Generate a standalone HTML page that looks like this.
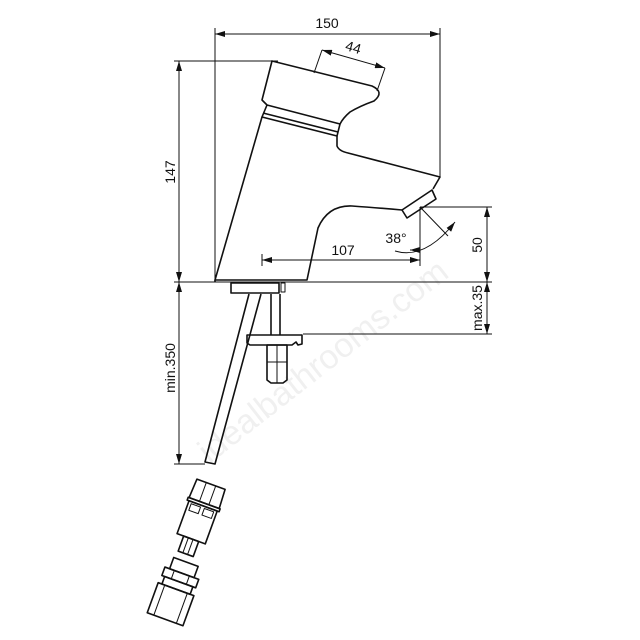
<!DOCTYPE html>
<html><head><meta charset="utf-8"><style>
html,body{margin:0;padding:0;background:#fff}
svg{display:block}
text{font-family:"Liberation Sans",Arial,sans-serif;fill:#111}
</style></head><body>
<svg width="640" height="640" viewBox="0 0 640 640" xmlns="http://www.w3.org/2000/svg">
<defs>
<marker id="a" viewBox="0 0 10 6" refX="10" refY="3" markerWidth="10" markerHeight="6" markerUnits="userSpaceOnUse" orient="auto-start-reverse">
<path d="M0,0 L10,3 L0,6 Z" fill="#111"/>
</marker>
</defs>
<text x="330" y="370" font-size="34" fill="#000" opacity="0.06" transform="rotate(-38 330 370)" text-anchor="middle">idealbathrooms.com</text>
<g stroke="#111" stroke-width="1" fill="none">
<!-- extension lines -->
<line x1="215" y1="28" x2="215" y2="282"/>
<line x1="440" y1="28" x2="440" y2="177"/>
<line x1="174" y1="61" x2="278" y2="61"/>
<line x1="174" y1="282" x2="492" y2="282"/>
<line x1="303" y1="334" x2="492" y2="334"/>
<line x1="174" y1="464" x2="205" y2="464"/>
<line x1="420" y1="207" x2="492" y2="207"/>
<line x1="420" y1="207" x2="420" y2="266"/>
<line x1="262" y1="254" x2="262" y2="266"/>
<line x1="322" y1="50" x2="314" y2="73"/>
<line x1="385" y1="68" x2="377" y2="91"/>
<!-- dimension lines -->
<line x1="215" y1="34" x2="440" y2="34" marker-start="url(#a)" marker-end="url(#a)"/>
<line x1="179" y1="61" x2="179" y2="282" marker-start="url(#a)" marker-end="url(#a)"/>
<line x1="179" y1="282" x2="179" y2="464" marker-start="url(#a)" marker-end="url(#a)"/>
<line x1="487" y1="207" x2="487" y2="282" marker-start="url(#a)" marker-end="url(#a)"/>
<line x1="487" y1="282" x2="487" y2="334" marker-start="url(#a)" marker-end="url(#a)"/>
<line x1="262" y1="260" x2="420" y2="260" marker-start="url(#a)" marker-end="url(#a)"/>
<line x1="322" y1="50" x2="385" y2="68" marker-start="url(#a)" marker-end="url(#a)"/>
<line x1="420" y1="207" x2="448" y2="236"/>
<path d="M395,251 Q425,260 455,222" marker-end="url(#a)"/>
<path d="M420,250 L410,250" marker-end="url(#a)"/>
</g>
<g stroke="#111" stroke-width="1.6" fill="none" stroke-linejoin="round">
<!-- handle -->
<path d="M272,61 L372,86 Q385,92 374,101 Q360,106 350,112 Q343,118 340,124 L267,105 L262,100 Z"/>
<path d="M267,105 L262,117 L337,136 L340,124"/>
<line x1="263" y1="113" x2="338" y2="132"/>
<!-- body -->
<path d="M262,117 L215,280 L307,280 L318,228 Q328,205 352,206 Q380,208 402,210"/>
<path d="M337,136 L337,146 Q339,151 348,153 L440,177 L433,189"/>
<path d="M402,210 L407,218 L436,199 L432,190 Z"/>
<!-- base -->
<path d="M215,282 L215,280"/>
<rect x="231" y="283" width="48" height="10"/>
<rect x="281" y="283" width="4" height="9" stroke-width="1"/>
<!-- hose -->
<path d="M249,294 L205,462 L215,464 L261,294"/>
<!-- rod -->
<line x1="271" y1="294" x2="271" y2="335"/>
<line x1="280" y1="294" x2="280" y2="335"/>
<path d="M247,335 L302,335 L302,344 L298,345 L296,342 L292,345 L260,345 L250,345 L247,343 Z"/>
<path d="M267,345 L287,345 L287,380 L283,383 L271,383 L267,380 Z"/>
<line x1="277" y1="345" x2="277" y2="383" stroke-width="1"/>
<line x1="267" y1="362" x2="287" y2="362" stroke-width="1"/>
<!-- fitting 1 -->
<g transform="translate(198,520) rotate(20)">
<path d="M-15,-38 L15,-38 L16,-18 L-16,-18 Z"/>
<line x1="-5" y1="-38" x2="-5" y2="-18" stroke-width="1"/>
<line x1="5" y1="-38" x2="5" y2="-18" stroke-width="1"/>
<rect x="-17" y="-18" width="34" height="3"/>
<rect x="-15" y="-15" width="30" height="35"/>
<rect x="-12" y="-13" width="10" height="7" stroke-width="1"/>
<rect x="2" y="-13" width="10" height="7" stroke-width="1"/>
<rect x="-8" y="20" width="16" height="16"/>
<line x1="-3" y1="20" x2="-3" y2="36" stroke-width="1"/>
<line x1="2" y1="20" x2="2" y2="36" stroke-width="1"/>
</g>
<!-- fitting 2 -->
<g transform="translate(175,592) rotate(20)">
<rect x="-13" y="-32" width="26" height="12"/>
<rect x="-18" y="-20" width="36" height="9"/>
<line x1="-8" y1="-20" x2="-8" y2="-11" stroke-width="1"/>
<line x1="8" y1="-20" x2="8" y2="-11" stroke-width="1"/>
<rect x="-15" y="-11" width="30" height="8"/>
<rect x="-19" y="-3" width="38" height="32"/>
<line x1="-12" y1="-3" x2="-12" y2="29" stroke-width="1"/>
<line x1="12" y1="-3" x2="12" y2="29" stroke-width="1"/>
</g>
</g>
<text x="327" y="28" font-size="14" text-anchor="middle">150</text>
<text x="352" y="52" font-size="14" text-anchor="middle" transform="rotate(16 352 52)">44</text>
<text x="175" y="172" font-size="14" text-anchor="middle" transform="rotate(-90 175 172)">147</text>
<text x="343" y="255" font-size="14" text-anchor="middle">107</text>
<text x="396" y="243" font-size="14" text-anchor="middle">38°</text>
<text x="482" y="245" font-size="14" text-anchor="middle" transform="rotate(-90 482 245)">50</text>
<text x="482" y="308" font-size="14" text-anchor="middle" transform="rotate(-90 482 308)">max.35</text>
<text x="175" y="368" font-size="14" text-anchor="middle" transform="rotate(-90 175 368)">min.350</text>
</svg>
</body></html>
